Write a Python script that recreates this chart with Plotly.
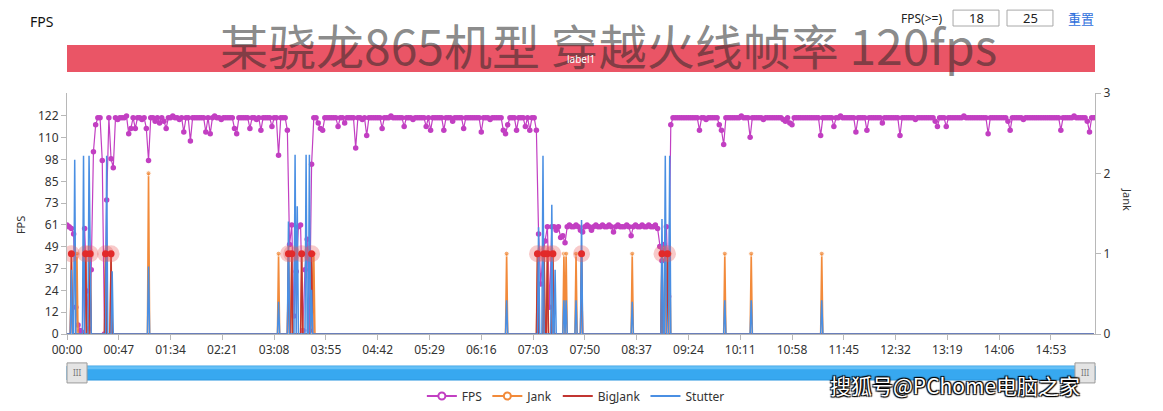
import plotly.graph_objects as go

# ---------------- data ----------------
tick_seconds = [0, 47, 94, 141, 188, 235, 282, 329, 376, 423, 470, 517, 564, 611, 658, 705, 752, 799, 846, 893]
tick_labels = ["00:00", "00:47", "01:34", "02:21", "03:08", "03:55", "04:42", "05:29", "06:16", "07:03",
               "07:50", "08:37", "09:24", "10:11", "10:58", "11:45", "12:32", "13:19", "14:06", "14:53"]
fps_tick_vals = [0, 12.2, 24.4, 36.6, 48.8, 61, 73.2, 85.4, 97.6, 109.8, 122]
fps_tick_text = ["0", "12", "24", "37", "49", "61", "73", "85", "98", "110", "122"]
jank_tick_vals = [0, 1, 2, 3]

fps_step_s = 2  # FPS sampled every 2 s
fps_values = [
    61, 60, 59, 56, 15, 5, 2, 1, 59, 24, 3, 36, 102, 117, 121, 121, 97, 0, 75, 121,
    98, 93, 121, 120, 121, 121, 121, 122, 112, 115, 121, 115, 121, 121, 120, 121, 115, 97, 121, 121,
    119, 121, 118, 121, 119, 115, 121, 121, 122, 121, 121, 120, 121, 113, 121, 121, 108, 121, 121, 121,
    121, 121, 121, 113, 121, 112, 121, 122, 121, 121, 120, 121, 121, 121, 121, 121, 115, 112, 121, 121,
    121, 121, 121, 115, 121, 121, 120, 121, 114, 121, 121, 121, 121, 116, 121, 121, 100, 121, 121, 121,
    114, 50, 61, 10, 35, 60, 61, 2, 36, 53, 2, 95, 121, 121, 118, 115, 114, 121, 121, 121,
    121, 121, 121, 116, 121, 121, 118, 121, 121, 121, 121, 104, 121, 121, 120, 121, 111, 121, 121, 121,
    121, 121, 121, 115, 121, 121, 121, 122, 121, 121, 121, 121, 121, 116, 121, 121, 121, 120, 121, 121,
    121, 121, 121, 116, 121, 114, 121, 121, 121, 121, 121, 114, 121, 121, 121, 119, 121, 121, 121, 121,
    115, 121, 121, 121, 121, 121, 121, 121, 113, 121, 121, 121, 120, 121, 121, 121, 121, 121, 114, 112,
    117, 121, 121, 121, 114, 121, 121, 121, 116, 121, 114, 121, 121, 114, 56, 28, 45, 52, 60, 15,
    60, 60, 58, 60, 54, 55, 51, 60, 61, 60, 60, 61, 60, 58, 57, 60, 61, 60, 58, 60,
    61, 60, 60, 61, 60, 60, 61, 60, 57, 60, 61, 60, 60, 60, 61, 60, 55, 60, 61, 60,
    60, 61, 60, 60, 61, 60, 60, 61, 59, 49, 41, 50, 60, 21, 117, 121, 121, 121, 121, 121,
    121, 121, 121, 121, 121, 121, 121, 114, 121, 121, 120, 121, 121, 121, 121, 121, 117, 114, 106, 121,
    121, 121, 121, 121, 121, 121, 122, 121, 121, 121, 110, 121, 121, 121, 121, 121, 120, 121, 121, 121,
    121, 121, 121, 121, 121, 120, 119, 121, 118, 117, 121, 121, 121, 121, 121, 121, 121, 121, 121, 121,
    121, 121, 111, 121, 121, 121, 121, 121, 116, 121, 121, 122, 121, 121, 121, 121, 121, 121, 113, 121,
    121, 121, 121, 114, 121, 121, 121, 121, 121, 121, 118, 121, 121, 121, 121, 121, 121, 121, 111, 121,
    121, 121, 121, 121, 121, 120, 121, 121, 121, 121, 121, 121, 121, 121, 119, 116, 121, 121, 121, 116,
    121, 121, 121, 121, 121, 121, 121, 122, 121, 121, 121, 121, 121, 121, 121, 121, 121, 121, 112, 121,
    121, 121, 121, 121, 121, 121, 121, 119, 114, 121, 121, 121, 121, 121, 120, 121, 121, 121, 121, 121,
    121, 121, 121, 121, 121, 121, 121, 121, 121, 121, 121, 114, 121, 121, 121, 121, 121, 122, 121, 121,
    121, 121, 121, 119, 113, 121, 121,
]

duration_s = 933  # per-second event series length (all other seconds are 0)

jank_t = [4, 9, 17, 21, 35, 40, 74, 192, 201, 204, 213, 222, 224, 399, 427, 433, 436, 441, 451, 453,
          462, 467, 513, 540, 543, 545, 547, 597, 621, 685]
jank_v = [1, 1, 1, 1, 1, 1, 2, 1, 1, 1, 1, 1, 1, 1, 1, 1, 1, 1, 1, 1,
          1, 1, 1, 1, 1, 1, 1, 1, 1, 1]

bigjank_t = [4, 17, 21, 35, 40, 201, 204, 213, 222, 427, 433, 436, 441, 467, 540, 545]
bigjank_v = [1, 1, 1, 1, 1, 1, 1, 1, 1, 1, 1, 1, 1, 1, 1, 1]

stutter_t = [4, 7, 15, 20, 21, 36, 41, 74, 192, 201, 207, 209, 217, 220, 222, 399, 428, 432, 440, 443,
             451, 453, 462, 467, 513, 540, 543, 547, 597, 621, 685]
stutter_v = [0.8, 2.17, 2.22, 2.22, 0.8, 2.22, 0.78, 0.84, 0.4, 1.4, 2.23, 1.59, 2.23, 2.23, 0.55, 0.42,
             1.33, 2.22, 1.61, 0.8, 0.42, 0.42, 0.42, 1.42, 0.4, 1.43, 2.22, 2.22, 0.42, 0.42, 0.42]

# ---------------- build ----------------
FPS_C = "#c23fc2"
JANK_C = "#f28a3a"
BIG_C = "#c23531"
ST_C = "#4a8fe3"

fps_time = [i * fps_step_s for i in range(len(fps_values))]
seconds = list(range(duration_s))


def expand(times, values):
    arr = [0.0] * duration_s
    for t, v in zip(times, values):
        arr[t] = v
    return arr


jank = expand(jank_t, jank_v)
bigjank = expand(bigjank_t, bigjank_v)
stutter = expand(stutter_t, stutter_v)

fig = go.Figure()
fig.add_trace(go.Scatter(x=fps_time, y=fps_values, mode="lines+markers", showlegend=False,
                         line=dict(color=FPS_C, width=1.2), marker=dict(size=5.5, color=FPS_C),
                         hoverinfo="skip"))
fig.add_trace(go.Scatter(x=seconds, y=jank, yaxis="y2", mode="lines+markers", showlegend=False,
                         line=dict(color=JANK_C, width=1.6),
                         marker=dict(size=[5 if v > 0 else 0 for v in jank], color=JANK_C),
                         hoverinfo="skip"))
fig.add_trace(go.Scatter(x=seconds, y=bigjank, yaxis="y2", mode="lines", showlegend=False,
                         line=dict(color=BIG_C, width=1.4), hoverinfo="skip"))
fig.add_trace(go.Scatter(x=seconds, y=stutter, yaxis="y2", mode="lines", showlegend=False,
                         line=dict(color=ST_C, width=1.5), hoverinfo="skip"))
# BigJank highlight points
fig.add_trace(go.Scatter(x=bigjank_t, y=bigjank_v, yaxis="y2", mode="markers", showlegend=False,
                         marker=dict(size=17, color="rgba(232,90,90,0.32)"), hoverinfo="skip"))
fig.add_trace(go.Scatter(x=bigjank_t, y=bigjank_v, yaxis="y2", mode="markers", showlegend=False,
                         marker=dict(size=7, color="#e22a2a"), hoverinfo="skip"))

# legend entries
fig.add_trace(go.Scatter(x=[None], y=[None], name="FPS", mode="lines+markers",
                         line=dict(color=FPS_C, width=2),
                         marker=dict(size=7, color="white", line=dict(color=FPS_C, width=2))))
fig.add_trace(go.Scatter(x=[None], y=[None], name="Jank", mode="lines+markers",
                         line=dict(color=JANK_C, width=2),
                         marker=dict(size=7, color="white", line=dict(color=JANK_C, width=2))))
fig.add_trace(go.Scatter(x=[None], y=[None], name="BigJank", mode="lines",
                         line=dict(color=BIG_C, width=2)))
fig.add_trace(go.Scatter(x=[None], y=[None], name="Stutter", mode="lines",
                         line=dict(color=ST_C, width=2)))

FONT = "Noto Sans, Noto Sans CJK SC, sans-serif"
AX = "#b8b8b8"

fig.update_layout(
    width=1163, height=411,
    margin=dict(l=67, r=68, t=93, b=77),
    paper_bgcolor="white", plot_bgcolor="white",
    font=dict(family=FONT, size=12, color="#333"),
    hovermode=False,
    xaxis=dict(range=[0, 933], tickvals=tick_seconds, ticktext=tick_labels, showgrid=False,
               zeroline=False, showline=True, linecolor=AX, ticks="outside", ticklen=5,
               tickcolor=AX, tickfont=dict(size=12, color="#333")),
    yaxis=dict(range=[0, 134.8], tickvals=fps_tick_vals, ticktext=fps_tick_text, showgrid=False,
               zeroline=False, showline=True, linecolor=AX, ticks="outside", ticklen=5,
               tickcolor=AX, tickfont=dict(size=12, color="#333")),
    yaxis2=dict(range=[0, 3], tickvals=jank_tick_vals, overlaying="y", side="right", showgrid=False,
                zeroline=False, showline=True, linecolor=AX, ticks="outside", ticklen=5,
                tickcolor=AX, tickfont=dict(size=12, color="#333")),
    legend=dict(orientation="h", x=0.495, xanchor="center", xref="paper",
                y=0.0365, yref="container", yanchor="middle",
                font=dict(size=12, color="#333"), bgcolor="rgba(0,0,0,0)", itemwidth=30),
)

shapes = [
    # label band
    dict(type="rect", xref="paper", yref="paper", x0=0, x1=1, y0=1.087, y1=1.199,
         fillcolor="#ea5566", line=dict(width=0), layer="below"),
    # threshold input boxes
    dict(type="rect", xref="paper", yref="paper", x0=0.8619, x1=0.9066, y0=1.278, y1=1.344,
         fillcolor="white", line=dict(color="#a8a8a8", width=1)),
    dict(type="rect", xref="paper", yref="paper", x0=0.9144, x1=0.9591, y0=1.278, y1=1.344,
         fillcolor="white", line=dict(color="#a8a8a8", width=1)),
    # data-zoom slider
    dict(type="rect", xref="paper", yref="paper", x0=0.0, x1=1.0, y0=-0.191, y1=-0.133,
         fillcolor="#37a8f0", line=dict(color="#2c98e0", width=1)),
    dict(type="rect", xref="paper", yref="paper", x0=0.0, x1=1.0, y0=-0.146, y1=-0.134,
         fillcolor="#66c0f6", line=dict(width=0)),
    dict(type="rect", xref="paper", yref="paper", x0=0.0, x1=0.0195, y0=-0.203, y1=-0.120,
         fillcolor="#e4e4e4", line=dict(color="#9a9a9a", width=1)),
    dict(type="rect", xref="paper", yref="paper", x0=0.9805, x1=1.0, y0=-0.203, y1=-0.120,
         fillcolor="#e4e4e4", line=dict(color="#9a9a9a", width=1)),
]
fig.update_layout(shapes=shapes)

annotations = [
    dict(text="FPS", xref="paper", yref="paper", x=-0.038, y=1.295, xanchor="left", yanchor="middle",
         showarrow=False, font=dict(size=14, color="#111")),
    dict(text="某骁龙865机型 穿越火线帧率 120fps", xref="paper", yref="paper", x=0.5268, y=1.205,
         xanchor="center", yanchor="middle", showarrow=False,
         font=dict(family="Noto Sans CJK SC", size=48, color="rgba(40,40,40,0.55)")),
    dict(text="label1", xref="paper", yref="paper", x=0.5, y=1.143, xanchor="center", yanchor="middle",
         showarrow=False, font=dict(size=10, color="white")),
    dict(text="FPS(>=)", xref="paper", yref="paper", x=0.8317, y=1.311, xanchor="center", yanchor="middle",
         showarrow=False, font=dict(size=12, color="#222")),
    dict(text="18", xref="paper", yref="paper", x=0.8843, y=1.311, xanchor="center", yanchor="middle",
         showarrow=False, font=dict(size=13, color="#222")),
    dict(text="25", xref="paper", yref="paper", x=0.9368, y=1.311, xanchor="center", yanchor="middle",
         showarrow=False, font=dict(size=13, color="#222")),
    dict(text="重置", xref="paper", yref="paper", x=0.9864, y=1.311, xanchor="center", yanchor="middle",
         showarrow=False, font=dict(family="Noto Sans CJK SC", size=13, color="#2f6fdc")),
    dict(text="FPS", xref="paper", yref="paper", x=-0.0457, y=0.452, xanchor="center", yanchor="middle",
         textangle=-90, showarrow=False, font=dict(size=11, color="#333")),
    dict(text="Jank", xref="paper", yref="paper", x=1.032, y=0.556, xanchor="center", yanchor="middle",
         textangle=90, showarrow=False, font=dict(size=11, color="#333")),
    dict(text="III", xref="paper", yref="paper", x=0.00975, y=-0.1615, xanchor="center", yanchor="middle",
         showarrow=False, font=dict(size=8, color="#777")),
    dict(text="III", xref="paper", yref="paper", x=0.99025, y=-0.1615, xanchor="center", yanchor="middle",
         showarrow=False, font=dict(size=8, color="#777")),
    dict(text="搜狐号@PChome电脑之家", xref="paper", yref="paper", x=0.864, y=-0.212,
         xanchor="center", yanchor="middle", showarrow=False,
         font=dict(family="Noto Sans CJK SC", size=21, color="white",
                   shadow="1px 1px 1px #000, -1px -1px 1px #000, 1px -1px 1px #000, -1px 1px 1px #000")),
]
fig.update_layout(annotations=annotations)

fig.write_html("out.html", config={"displayModeBar": False},
               post_script="document.body.style.margin='0';")
